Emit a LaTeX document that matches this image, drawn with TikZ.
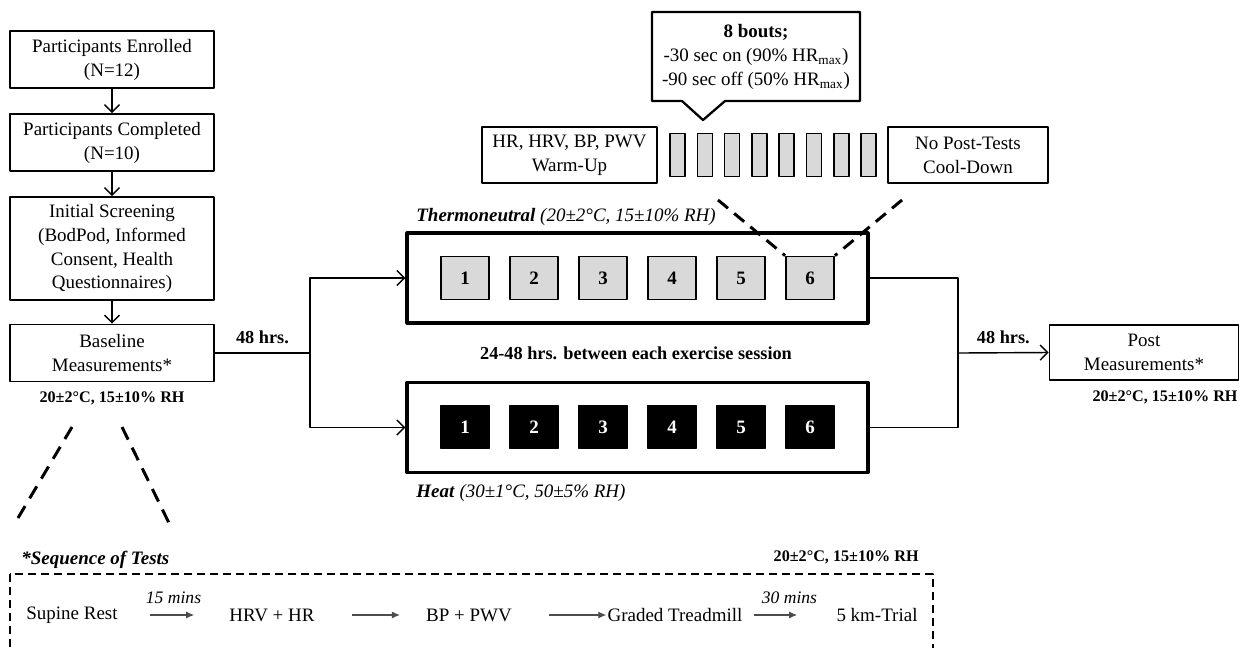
\documentclass[tikz,border=0pt]{standalone}
\usepackage{fontspec}
\setmainfont{Liberation Serif}
\usetikzlibrary{arrows.meta}
\definecolor{boutgray}{RGB}{217,217,217}
\begin{document}
\begin{tikzpicture}[x=0.02cm,y=-0.02cm,>={Straight Barb[length=1.5mm,width=3mm]},line join=round,
	font=\fontsize{10.8}{13.6}\selectfont,
	box/.style={draw,line width=1pt,align=center,inner sep=0pt},
	room/.style={draw,line width=1.8pt,minimum width=9.22cm,minimum height=1.8cm},
	tn/.style={draw,fill=boutgray,line width=1pt,minimum width=0.96cm,minimum height=0.86cm,font=\fontsize{10.8}{13}\selectfont\bfseries},
	ht/.style={tn,fill=black,text=white},
	bout/.style={draw,fill=boutgray,line width=0.9pt,minimum width=0.3cm,minimum height=0.86cm},
	link/.style={line width=0.8pt},
	zoomline/.style={line width=1.7pt,dash pattern=on 0.26cm off 0.16cm},
	cond/.style={font=\fontsize{9.2}{11}\selectfont\bfseries,inner sep=0pt},
	hrs/.style={font=\fontsize{10.4}{12}\selectfont\bfseries,inner sep=0pt},
	seq/.style={inner sep=0pt},
	seqarr/.style={-{Latex[length=1.6mm,width=1.4mm]},line width=0.6pt,draw=black!70}]
	\useasboundingbox (0,0) rectangle (1240,647);
	\node[box,minimum width=4.08cm,minimum height=1.14cm] (enr) at (112,59.5) {Participants Enrolled\\(N=12)};
	\node[box,minimum width=4.08cm,minimum height=1.14cm] (comp) at (112,142.5) {Participants Completed\\(N=10)};
	\node[box,minimum width=4.08cm,minimum height=2.06cm] (scr) at (112,248.5) {Initial Screening\\(BodPod, Informed\\Consent, Health\\Questionnaires)};
	\node[box,minimum width=4.08cm,minimum height=1.14cm] (base) at (112,353) {Baseline\\Measurements*};
	\node[cond] (basecond) at (112,398) {20±2°C, 15±10\% RH};
	\draw[link,->] (enr) -- (comp);
	\draw[link,->] (comp) -- (scr);
	\draw[link,->] (scr) -- (base);
	\node[room] (tnroom) at (637.5,278) {};
	\node[room] (htroom) at (637.5,427.5) {};
	\foreach \i in {1,...,6}{
		\node[tn] (t\i) at ({396+69*\i},278) {\i};
		\node[ht] (h\i) at ({396+69*\i},427) {\i};
	}
	\node[anchor=west,inner sep=0pt] (tnlabel) at (416,217) {\textbf{\textit{Thermoneutral}} \textit{(20±2°C, 15±10\% RH)}};
	\node[anchor=west,inner sep=0pt] (htlabel) at (416,493) {\textbf{\textit{Heat}} \textit{(30±1°C, 50±5\% RH)}};
	\node[hrs] (gap) at (636,353) {24-48 hrs. between each exercise session};
	\coordinate (split) at (310,353);
	\coordinate (join) at (958,353);
	\draw[link] (base.east) -- node[hrs,above=0.17cm] {48 hrs.} (split);
	\draw[link,->] (split) |- (tnroom.west);
	\draw[link,->] (split) |- (htroom.west);
	\node[box,minimum width=3.78cm,minimum height=1.1cm] (post) at (1144,352.5) {Post\\Measurements*};
	\node[cond] (postcond) at (1165,397) {20±2°C, 15±10\% RH};
	\draw[link] (tnroom.east) -| (join);
	\draw[link] (htroom.east) -| (join);
	\draw[link,->] (join) -- node[hrs,above=0.17cm] {48 hrs.} (post.west);
	\node[box,minimum width=3.5cm,minimum height=1.12cm] (warm) at (569.5,155) {HR, HRV, BP, PWV\\Warm-Up};
	\node[box,minimum width=3.2cm,minimum height=1.12cm] (cool) at (968,155) {No Post-Tests\\Cool-Down};
	\foreach \k in {1,...,8}\node[bout] (b\k) at ({650.2+27.3*\k},155) {};
	\node[align=center,inner sep=0pt] (bouts) at (756,57) {\textbf{8 bouts;}\\-30 sec on (90\% HR\textsubscript{max})\\-90 sec off (50\% HR\textsubscript{max})};
	\draw[line width=1.3pt] (652,12) -- (860,12) -- (860,101) -- (725,101) -- (703,120) -- (682,101) -- (652,101) -- cycle;
	\coordinate (zl) at (718,200);
	\coordinate (zr) at (902,200);
	\draw[zoomline] (zl) -- (t6.north west);
	\draw[zoomline] (zr) -- (t6.north east);
	\coordinate (bl1) at (72,427);
	\coordinate (bl2) at (18,518);
	\coordinate (br1) at (122,427);
	\coordinate (br2) at (169,523);
	\draw[zoomline,dash pattern=on 0.28cm off 0.18cm] (bl1) -- (bl2);
	\draw[zoomline,dash pattern=on 0.28cm off 0.18cm] (br1) -- (br2);
	\node[anchor=west,inner sep=0pt,font=\fontsize{10.8}{13}\selectfont\bfseries\itshape] (seqtitle) at (21,560) {*Sequence of Tests};
	\node[cond,anchor=east] (seqcond) at (919,557) {20±2°C, 15±10\% RH};
	\draw[line width=1.1pt,dash pattern=on 0.16cm off 0.1cm] (10,574) rectangle (933,665);
	\node[seq] (sup) at (72,615) {Supine Rest};
	\node[seq] (hrv) at (272,615) {HRV + HR};
	\node[seq] (bp) at (469,615) {BP + PWV};
	\node[seq] (grd) at (675,615) {Graded Treadmill};
	\node[seq] (trial) at (877,615) {5 km-Trial};
	\draw[seqarr,shorten <=0.64cm,shorten >=0.7cm] (sup.east) -- node[above=0.22cm,inner sep=0pt,font=\itshape] {15 mins} (hrv.west);
	\draw[seqarr,shorten <=0.74cm,shorten >=0.52cm] (hrv.east) -- (bp.west);
	\draw[seqarr,shorten <=0.74cm,shorten >=0.02cm] (bp.east) -- (grd.west);
	\draw[seqarr,shorten <=0.22cm,shorten >=0.78cm] (grd.east) -- node[above=0.22cm,inner sep=0pt,font=\itshape] {30 mins} (trial.west);
\end{tikzpicture}
\end{document}
